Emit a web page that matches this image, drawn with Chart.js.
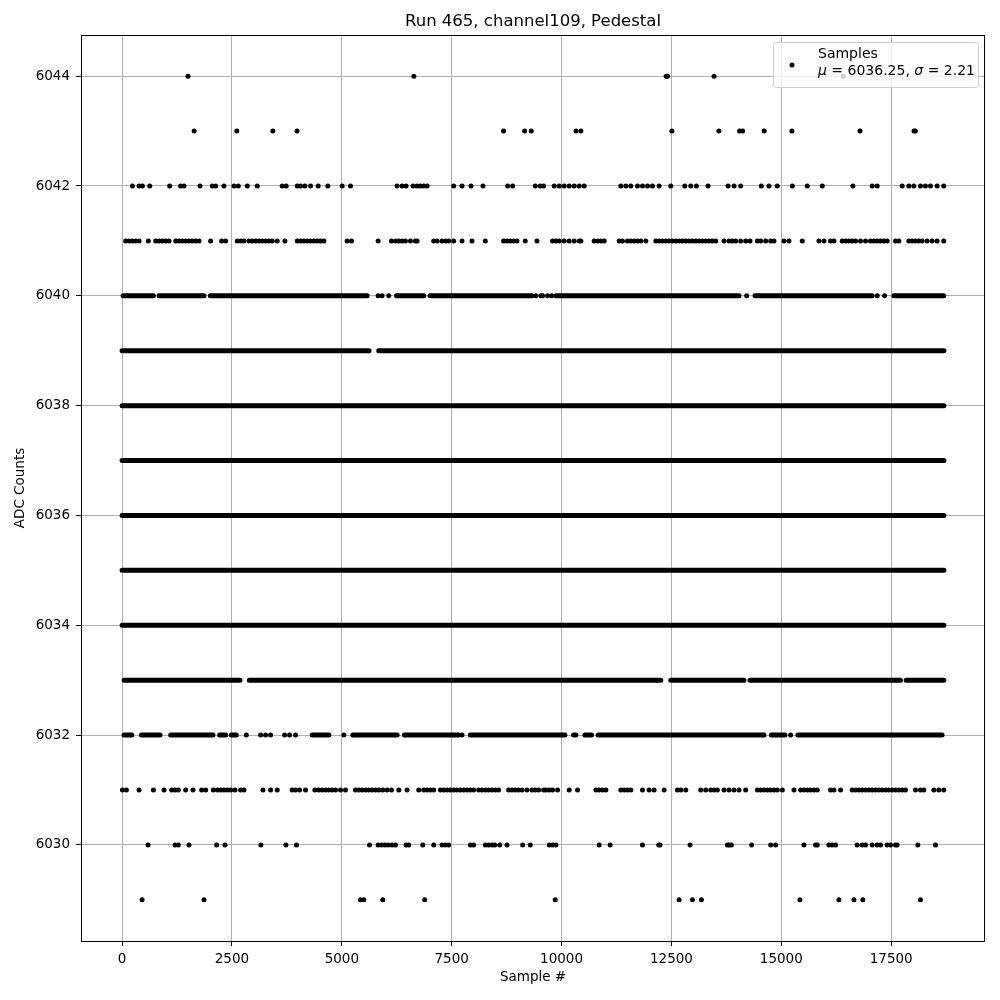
<!DOCTYPE html>
<html>
<head>
<meta charset="utf-8">
<script src="https://cdn.jsdelivr.net/npm/chart.js@4.4.1/dist/chart.umd.min.js"></script>
<style>
  body { margin: 0; background: #fff; }
  canvas { display: block; }
</style>
</head>
<body>
<canvas id="chart" width="1000" height="1000"></canvas>
<script>
// tick labels
const xTicks = [0, 2500, 5000, 7500, 10000, 12500, 15000, 17500];
const yTicks = [6030, 6032, 6034, 6036, 6038, 6040, 6042, 6044];

// single samples (sample # per ADC value)
const dots6044 = [1500, 6640, 12380, 12410, 13470, 16410];
const dots6043 = [1640, 2610, 3430, 3980, 8680, 9160, 9310, 10330, 10440, 12510, 13580, 14050, 14120, 14610, 15240, 16790, 18020, 18050];
const dots6042 = [235, 386, 462, 629, 1083, 1333, 1409, 1773, 2053, 2129, 2318, 2546, 2644, 2849, 3076, 3644, 3735, 3985, 4061, 4159, 4288, 4462, 4682, 5008, 5197, 6258, 6371, 6462, 6621, 6712, 6788, 6864, 6940, 7546, 7735, 7940, 8212, 8773, 8887, 9402, 9515, 9591, 9833, 9947, 10061, 10174, 10288, 10402, 10515, 11348, 11462, 11576, 11727, 11841, 11955, 12068, 12220, 12485, 12803, 12939, 13068, 13333, 13788, 13924, 14076, 14545, 14720, 14909, 15250, 15591, 15932, 16629, 17068, 17182, 17750, 17902, 18015, 18167, 18280, 18394, 18545, 18697];
const dots6041 = [83, 159, 235, 311, 386, 598, 765, 841, 917, 992, 1068, 1220, 1295, 1371, 1447, 1523, 1598, 1674, 1750, 2015, 2265, 2356, 2621, 2697, 2773, 2886, 2962, 3038, 3114, 3189, 3265, 3341, 3417, 3530, 3705, 3985, 4061, 4136, 4212, 4288, 4364, 4439, 4515, 4591, 5121, 5220, 5826, 6129, 6220, 6296, 6371, 6447, 6561, 6674, 6712, 7091, 7167, 7280, 7356, 7432, 7546, 7735, 7962, 8265, 8682, 8758, 8833, 8909, 8985, 9174, 9440, 9795, 9871, 9947, 10061, 10174, 10288, 10402, 10439, 10742, 10818, 10894, 10970, 11311, 11386, 11500, 11576, 11652, 11727, 11803, 11917, 12144, 12220, 12296, 12371, 12447, 12523, 12599, 12674, 12750, 12826, 12902, 12977, 13053, 13129, 13205, 13280, 13356, 13432, 13508, 13697, 13811, 13886, 13962, 14076, 14189, 14288, 14455, 14530, 14644, 14758, 14833, 15061, 15174, 15477, 15856, 15970, 16121, 16197, 16386, 16462, 16538, 16614, 16689, 16803, 16917, 17030, 17106, 17182, 17258, 17333, 17409, 17598, 17674, 17902, 17977, 18053, 18129, 18205, 18318, 18432, 18545, 18697];
const dots6040 = [5826, 5917, 6068, 9417, 9530, 9568, 9682, 9773, 14212, 17182, 17349];
const dots6032 = [2826, 3152, 3265, 3379, 3697, 3811, 3947, 5046, 7735, 15212];
const dots6031 = [8, 98, 386, 712, 955, 1129, 1205, 1280, 1447, 1614, 1811, 1902, 2076, 2167, 2242, 2318, 2394, 2470, 2568, 2697, 2773, 3205, 3379, 3530, 3871, 3947, 4038, 4174, 4386, 4477, 4553, 4629, 4705, 4780, 4856, 4970, 5083, 5311, 5386, 5462, 5538, 5614, 5689, 5765, 5841, 5932, 6030, 6129, 6296, 6485, 6750, 6864, 6940, 7015, 7091, 7243, 7318, 7394, 7470, 7546, 7621, 7697, 7773, 7849, 7924, 8000, 8114, 8189, 8265, 8341, 8417, 8493, 8568, 8796, 8871, 8947, 9023, 9099, 9212, 9326, 9402, 9477, 9591, 9644, 9720, 9795, 9909, 10174, 10364, 10780, 10856, 10932, 11008, 11348, 11424, 11500, 11576, 11841, 11992, 12106, 12333, 12636, 12712, 12826, 13167, 13280, 13394, 13470, 13545, 13697, 13811, 13924, 14038, 14189, 14455, 14530, 14606, 14682, 14758, 14833, 14909, 15023, 15288, 15439, 15515, 15591, 15667, 15742, 15818, 16121, 16197, 16348, 16614, 16689, 16765, 16841, 16917, 16992, 17068, 17144, 17220, 17295, 17371, 17447, 17523, 17598, 17674, 17750, 17826, 18053, 18167, 18242, 18470, 18583, 18697];
const dots6030 = [591, 1205, 1280, 1523, 2152, 2341, 3159, 3727, 3970, 5629, 5826, 5902, 5977, 6053, 6144, 6220, 6462, 6523, 6841, 7091, 7280, 7356, 7432, 7924, 8000, 8265, 8341, 8417, 8477, 8591, 8758, 9114, 9288, 9720, 9795, 9871, 10856, 11106, 11841, 12210, 12240, 12924, 13773, 13811, 13864, 14326, 14758, 14871, 15515, 15780, 15818, 16083, 16159, 16235, 16727, 16841, 16917, 17068, 17182, 17258, 17409, 17485, 17598, 17636, 18106, 18508];
const dots6029 = [455, 1864, 5424, 5500, 5932, 6886, 9856, 12674, 12977, 13182, 15424, 16311, 16652, 16856, 18167];

// stretches where samples sit so close they form a solid band [first, last]
const runs6040 = [[23, 712], [841, 1864], [2008, 5576], [6243, 6864], [7008, 9326], [9871, 14038], [14402, 17068], [17561, 18697]];
const runs6039 = [[0, 5620], [5840, 18700]];
const runs6038 = [[0, 18700]];
const runs6037 = [[0, 18700]];
const runs6036 = [[0, 18700]];
const runs6035 = [[0, 18700]];
const runs6034 = [[0, 18700]];
const runs6033 = [[45, 2682], [2894, 12258], [12485, 14152], [14288, 17712], [17841, 18697]];
const runs6032 = [[45, 220], [440, 864], [1106, 2068], [2220, 2356], [2485, 2599], [4326, 4705], [5250, 6258], [6424, 7659], [7924, 10076], [10273, 10326], [10530, 10682], [10833, 14606], [14773, 15083], [15379, 18659]];

const FONT = "'DejaVu Sans', 'Liberation Sans', sans-serif";

// punkte zusammenbauen
const dotSets = [[6044, dots6044], [6043, dots6043], [6042, dots6042], [6041, dots6041], [6040, dots6040],
  [6032, dots6032], [6031, dots6031], [6030, dots6030], [6029, dots6029]];
const runSets = [[6040, runs6040], [6039, runs6039], [6038, runs6038], [6037, runs6037], [6036, runs6036],
  [6035, runs6035], [6034, runs6034], [6033, runs6033], [6032, runs6032]];

const dotData = [];
dotSets.forEach(([lvl, xs]) => xs.forEach(x => dotData.push({ x: x, y: lvl })));

const runData = [];
runSets.forEach(([lvl, runs]) => runs.forEach(([a, b]) => {
  runData.push({ x: a, y: lvl }, { x: b, y: lvl }, { x: b, y: null });
}));

// title, axis labels, frame, legend
const decor = {
  id: 'decor',
  afterDatasetsDraw(chart) {
    const ctx = chart.ctx;
    const a = chart.chartArea;
    ctx.save();
    ctx.strokeStyle = '#000';
    ctx.lineWidth = 1;
    ctx.strokeRect(Math.round(a.left) + 0.5, Math.round(a.top) + 0.5,
      Math.round(a.right - a.left) - 1, Math.round(a.bottom - a.top));

    // legend box
    const lx = 773.5, ly = 42.5, lw = 205, lh = 45, r = 3;
    ctx.beginPath();
    ctx.roundRect(lx, ly, lw, lh, r);
    ctx.fillStyle = 'rgba(255,255,255,0.8)';
    ctx.fill();
    ctx.strokeStyle = '#cccccc';
    ctx.stroke();
    ctx.fillStyle = '#000';
    ctx.beginPath();
    ctx.arc(792, 65, 2.5, 0, Math.PI * 2);
    ctx.fill();
    ctx.textBaseline = 'middle';
    ctx.textAlign = 'left';
    ctx.font = '14px ' + FONT;
    ctx.fillText('Samples', 818, 54);
    let x = 818;
    const parts = [['μ', true], [' = 6036.25, ', false], ['σ', true], [' = 2.21', false]];
    parts.forEach(([t, it]) => {
      ctx.font = (it ? 'italic ' : '') + '14px ' + FONT;
      ctx.fillText(t, x, 71);
      x += ctx.measureText(t).width;
    });

    // titles
    const cx = (a.left + a.right) / 2;
    ctx.textAlign = 'center';
    ctx.font = '16.5px ' + FONT;
    ctx.fillText('Run 465, channel109, Pedestal', cx, 22);
    ctx.font = '13.5px ' + FONT;
    ctx.fillText('Sample #', cx, 977);
    ctx.translate(20, (a.top + a.bottom) / 2);
    ctx.rotate(-Math.PI / 2);
    ctx.fillText('ADC Counts', 0, 0);
    ctx.restore();
  }
};

new Chart(document.getElementById('chart'), {
  type: 'scatter',
  data: {
    datasets: [
      {
        label: 'runs',
        data: runData,
        showLine: true,
        spanGaps: false,
        borderColor: '#000',
        borderWidth: 5,
        borderCapStyle: 'round',
        pointRadius: 0,
        tension: 0
      },
      {
        label: 'Samples',
        data: dotData,
        pointRadius: 2.5,
        pointBackgroundColor: '#000',
        pointBorderWidth: 0
      }
    ]
  },
  options: {
    responsive: false,
    animation: false,
    devicePixelRatio: 1,
    events: [],
    layout: { padding: { left: 0, top: 35, right: 15, bottom: 0 } },
    plugins: { legend: { display: false }, tooltip: { enabled: false }, title: { display: false } },
    scales: {
      x: {
        type: 'linear',
        min: -935,
        max: 19635,
        afterFit: s => { s.height = 59; },
        afterBuildTicks: s => { s.ticks = xTicks.map(v => ({ value: v })); },
        grid: { color: '#b0b0b0', lineWidth: 1, tickColor: '#000', tickLength: 5, tickWidth: 1 },
        border: { display: false },
        ticks: { color: '#000', font: { family: FONT, size: 13.5 }, padding: 5, maxRotation: 0, autoSkip: false,
          callback: v => String(v) }
      },
      y: {
        type: 'linear',
        min: 6028.25,
        max: 6044.75,
        afterFit: s => { s.width = 81; },
        afterBuildTicks: s => { s.ticks = yTicks.map(v => ({ value: v })); },
        grid: { color: '#b0b0b0', lineWidth: 1, tickColor: '#000', tickLength: 5, tickWidth: 1 },
        border: { display: false },
        ticks: { color: '#000', font: { family: FONT, size: 13.5 }, padding: 6, autoSkip: false,
          callback: v => String(v) }
      }
    }
  },
  plugins: [decor]
});
</script>
</body>
</html>
